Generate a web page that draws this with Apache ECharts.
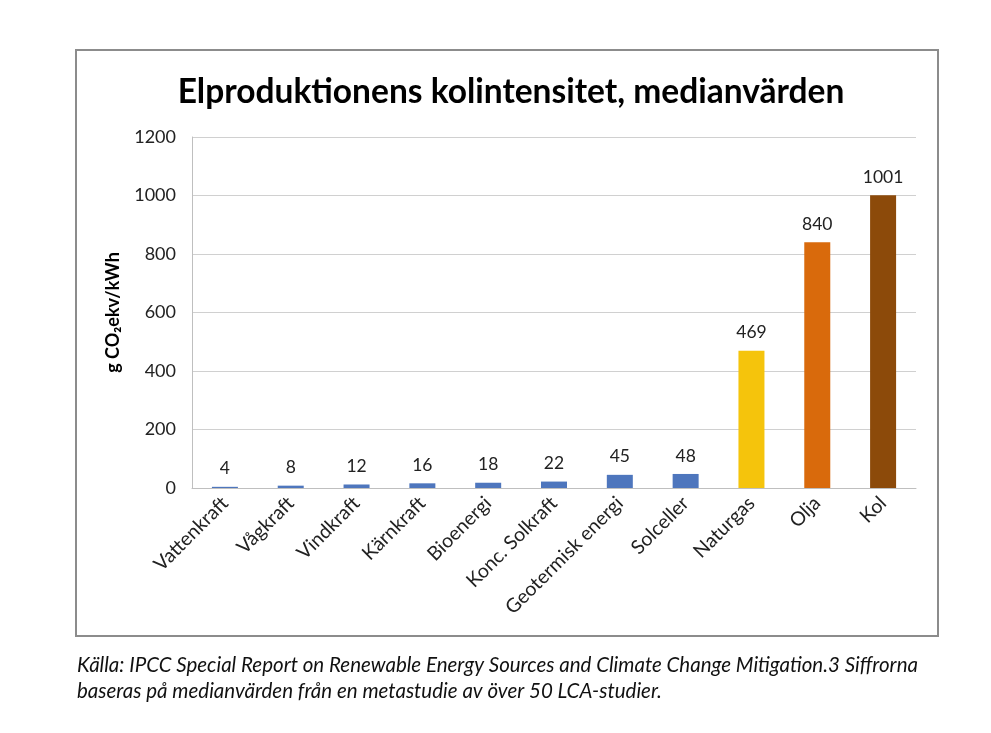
<!DOCTYPE html>
<html>
<head>
<meta charset="utf-8">
<script src="https://cdn.jsdelivr.net/npm/echarts@6/dist/echarts.min.js"></script>
<style>html,body{margin:0;padding:0;background:#fff;}#c{width:991px;height:733px;}</style>
</head>
<body>
<div id="c"></div>
<script>
const categories = ['Vattenkraft','Vågkraft','Vindkraft','Kärnkraft','Bioenergi','Konc. Solkraft','Geotermisk energi','Solceller','Naturgas','Olja','Kol'];
const values = [4, 8, 12, 16, 18, 22, 45, 48, 469, 840, 1001];
const barColors = ['#4E76BD','#4E76BD','#4E76BD','#4E76BD','#4E76BD','#4E76BD','#4E76BD','#4E76BD','#F5C40C','#D96A0C','#8C4A0A'];
const yTicks = [0, 200, 400, 600, 800, 1000, 1200];

const chart = echarts.init(document.getElementById('c'));
chart.setOption({
  backgroundColor: '#fff',
  animation: false,
  title: {
    text: 'Elproduktionens kolintensitet, medianvärden',
    left: 506, top: 70, textAlign: 'center',
    textStyle: {fontFamily: 'Lato', fontWeight: 'bold', fontSize: 33.5, color: '#000'}
  },
  grid: {left: 192, right: 75, top: 137, bottom: 245, containLabel: false},
  xAxis: {
    type: 'category', data: categories,
    axisLine: {lineStyle: {color: '#bfbfbf'}},
    axisTick: {show: false},
    axisLabel: {rotate: 45, fontFamily: 'Lato', fontSize: 19.5, color: '#222', margin: 12, interval: 0}
  },
  yAxis: {
    type: 'value', min: 0, max: 1200, interval: 200,
    name: 'g CO₂ekv/kWh', nameLocation: 'middle', nameGap: 70, nameRotate: 90,
    nameTextStyle: {fontFamily: 'Lato', fontWeight: 'bold', fontSize: 18, color: '#000'},
    axisLine: {show: true, lineStyle: {color: '#bfbfbf'}},
    axisTick: {show: false},
    splitLine: {lineStyle: {color: '#d0d0d0'}},
    axisLabel: {fontFamily: 'Lato', fontSize: 18, color: '#222', margin: 16,
      formatter: v => yTicks.includes(v) ? String(v) : ''}
  },
  series: [{
    type: 'bar', barWidth: 26,
    data: values.map((v, i) => ({value: v, itemStyle: {color: barColors[i]}})),
    label: {show: true, position: 'top', distance: 9, fontFamily: 'Lato', fontSize: 17.5, color: '#222'}
  }],
  graphic: [
    {type: 'rect', shape: {x: 76, y: 50, width: 862, height: 586}, style: {fill: 'none', stroke: '#8c8c8c', lineWidth: 2}, z: 100},
    {type: 'text', left: 77, top: 655, style: {text: 'Källa: IPCC Special Report on Renewable Energy Sources and Climate Change Mitigation.3 Siffrorna', fontFamily: 'Lato', fontStyle: 'italic', fontSize: 20.5, fill: '#111'}},
    {type: 'text', left: 77, top: 681, style: {text: 'baseras på medianvärden från en metastudie av över 50 LCA-studier.', fontFamily: 'Lato', fontStyle: 'italic', fontSize: 20.5, fill: '#111'}}
  ]
});
</script>
</body>
</html>
